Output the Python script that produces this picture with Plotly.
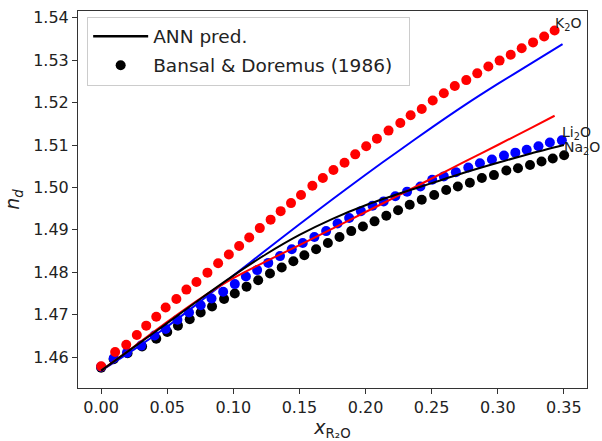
import plotly.graph_objects as go

# ---- data: Bansal & Doremus (1986) measurements ----
k2o_x = [0.000, 0.0106, 0.0190, 0.0270, 0.0341, 0.0417, 0.0488, 0.0569, 0.0645, 0.0721,
         0.0804, 0.0885, 0.0966, 0.1044, 0.1120, 0.1200, 0.1282, 0.1358, 0.1436, 0.1512,
         0.1598, 0.1677, 0.1757, 0.1841, 0.1922, 0.2005, 0.2086, 0.2174, 0.2263, 0.2341,
         0.2425, 0.2508, 0.2592, 0.2675, 0.2762, 0.2845, 0.2929, 0.3014, 0.3098, 0.3181,
         0.3267, 0.3351, 0.3430]
k2o_y = [1.4578, 1.4612, 1.4629, 1.4652, 1.4674, 1.4695, 1.4717, 1.4737, 1.4759, 1.4777,
         1.4799, 1.4821, 1.4842, 1.4862, 1.4882, 1.4904, 1.4924, 1.4944, 1.4963, 1.4982,
         1.5004, 1.5022, 1.5041, 1.5058, 1.5078, 1.5097, 1.5115, 1.5134, 1.5152, 1.5170,
         1.5185, 1.5205, 1.5222, 1.5239, 1.5253, 1.5269, 1.5285, 1.5299, 1.5313, 1.5328,
         1.5342, 1.5356, 1.5370]

li2o_x = [0.000, 0.0095, 0.0195, 0.0303, 0.0404, 0.0488, 0.0577, 0.0665, 0.0753, 0.0835,
          0.0923, 0.1011, 0.1095, 0.1180, 0.1264, 0.1353, 0.1442, 0.1525, 0.1613, 0.1702,
          0.1788, 0.1876, 0.1965, 0.2053, 0.2137, 0.2225, 0.2314, 0.2415, 0.2504, 0.2592,
          0.2683, 0.2777, 0.2865, 0.2956, 0.3047, 0.3133, 0.3219, 0.3308, 0.3394, 0.3485]
li2o_y = [1.4577, 1.4597, 1.4610, 1.4627, 1.4651, 1.4666, 1.4688, 1.4705, 1.4722, 1.4738,
          1.4754, 1.4772, 1.4790, 1.4805, 1.4822, 1.4838, 1.4854, 1.4869, 1.4883, 1.4897,
          1.4915, 1.4928, 1.4944, 1.4957, 1.4967, 1.4979, 1.4990, 1.5002, 1.5018, 1.5026,
          1.5036, 1.5047, 1.5057, 1.5066, 1.5075, 1.5082, 1.5089, 1.5097, 1.5106, 1.5111]

na2o_x = [0.000, 0.0095, 0.0200, 0.0310, 0.0417, 0.0500, 0.0581, 0.0670, 0.0753, 0.0839,
          0.0930, 0.1011, 0.1100, 0.1188, 0.1277, 0.1366, 0.1454, 0.1537, 0.1626, 0.1715,
          0.1803, 0.1892, 0.1980, 0.2068, 0.2157, 0.2246, 0.2334, 0.2425, 0.2519, 0.2610,
          0.2698, 0.2789, 0.2880, 0.2971, 0.3065, 0.3153, 0.3244, 0.3331, 0.3416, 0.3502]
na2o_y = [1.4575, 1.4595, 1.4609, 1.4625, 1.4643, 1.4659, 1.4674, 1.4689, 1.4705, 1.4719,
          1.4737, 1.4750, 1.4766, 1.4781, 1.4797, 1.4811, 1.4826, 1.4840, 1.4854, 1.4869,
          1.4883, 1.4897, 1.4908, 1.4920, 1.4933, 1.4946, 1.4959, 1.4971, 1.4982, 1.4994,
          1.5002, 1.5011, 1.5022, 1.5029, 1.5040, 1.5045, 1.5053, 1.5061, 1.5068, 1.5076]

# ---- data: ANN predictions ----
ann_blue_x = [0, 0.025, 0.05, 0.075, 0.10, 0.125, 0.15, 0.175, 0.20, 0.225,
              0.25, 0.275, 0.30, 0.325, 0.349]
ann_blue_y = [1.4568, 1.4618, 1.4672, 1.4731, 1.4792, 1.4853, 1.4913, 1.4972, 1.5030, 1.5086,
              1.5141, 1.5194, 1.5244, 1.5292, 1.5338]

ann_red_x = [0, 0.025, 0.05, 0.075, 0.10, 0.125, 0.15, 0.175, 0.20, 0.225,
             0.25, 0.275, 0.30, 0.325, 0.343]
ann_red_y = [1.4568, 1.4625, 1.4683, 1.4738, 1.4786, 1.4826, 1.4864, 1.4903, 1.4942, 1.4981,
             1.5021, 1.5061, 1.5100, 1.5140, 1.5169]

ann_black_x = [0, 0.025, 0.05, 0.075, 0.10, 0.125, 0.15, 0.175, 0.20, 0.225,
               0.25, 0.275, 0.30, 0.325, 0.35]
ann_black_y = [1.4568, 1.4624, 1.4680, 1.4737, 1.4792, 1.4843, 1.4888, 1.4926, 1.4958, 1.4985,
               1.5010, 1.5035, 1.5058, 1.5080, 1.5100]

x_ticks = [0.00, 0.05, 0.10, 0.15, 0.20, 0.25, 0.30, 0.35]
y_ticks = [1.46, 1.47, 1.48, 1.49, 1.50, 1.51, 1.52, 1.53, 1.54]

labels = ["K<sub>2</sub>O", "Li<sub>2</sub>O", "Na<sub>2</sub>O"]

FONT = "DejaVu Sans"
fig = go.Figure()

# measured points (black under blue under red)
for xs, ys, c in [(na2o_x, na2o_y, "#000000"), (li2o_x, li2o_y, "#0000ff"), (k2o_x, k2o_y, "#ff0000")]:
    fig.add_trace(go.Scatter(x=xs, y=ys, mode="markers",
                             marker=dict(color=c, size=10, line=dict(width=0)),
                             showlegend=False, cliponaxis=False))

# ANN lines
for xs, ys, c in [(ann_blue_x, ann_blue_y, "#0000ff"), (ann_red_x, ann_red_y, "#ff0000"),
                  (ann_black_x, ann_black_y, "#000000")]:
    fig.add_trace(go.Scatter(x=xs, y=ys, mode="lines",
                             line=dict(color=c, width=2, shape="spline", smoothing=0.8),
                             showlegend=False))

# legend-only entries
fig.add_trace(go.Scatter(x=[None], y=[None], mode="lines", name="ANN pred.",
                         line=dict(color="black", width=2.5), legendgroup="a"))
fig.add_trace(go.Scatter(x=[None], y=[None], mode="markers", name="Bansal & Doremus (1986)  ",
                         marker=dict(color="black", size=10), legendgroup="b"))

# end labels
for xs, ys, t in [(k2o_x, k2o_y, labels[0]), (li2o_x, li2o_y, labels[1]), (na2o_x, na2o_y, labels[2])]:
    fig.add_annotation(x=xs[-1], y=ys[-1], text=t, showarrow=False,
                       xanchor="left", yanchor="bottom", xshift=-2, yshift=-4,
                       font=dict(family=FONT, size=14, color="#222222"))

axis_common = dict(showline=True, linecolor="#333333", linewidth=1, mirror=True,
                   ticks="outside", ticklen=5, tickcolor="#333333", tickwidth=1,
                   showgrid=False, zeroline=False,
                   tickfont=dict(family=FONT, size=16, color="#222222"))

fig.update_layout(
    width=602, height=441,
    margin=dict(l=78, r=15, t=8, b=53),
    paper_bgcolor="white", plot_bgcolor="white",
    font=dict(family=FONT, color="#222222"),
    xaxis=dict(range=[-0.0175, 0.3675], tickvals=x_ticks, tickformat=".2f",
               title=dict(text="<i>x</i><sub>R₂O</sub>", font=dict(family=FONT, size=19), standoff=0),
               **axis_common),
    yaxis=dict(range=[1.4527, 1.5416], tickvals=y_ticks, tickformat=".2f",
               title=dict(text="<i>n<sub>d</sub></i>", font=dict(family=FONT, size=19), standoff=8),
               **axis_common),
    legend=dict(x=0.018, y=0.985, xanchor="left", yanchor="top",
                bgcolor="rgba(255,255,255,0.9)", bordercolor="#cccccc", borderwidth=1,
                font=dict(family=FONT, size=18.5, color="#222222"),
                traceorder="grouped", tracegroupgap=2, itemwidth=55),
)

fig.write_html("out.html")
